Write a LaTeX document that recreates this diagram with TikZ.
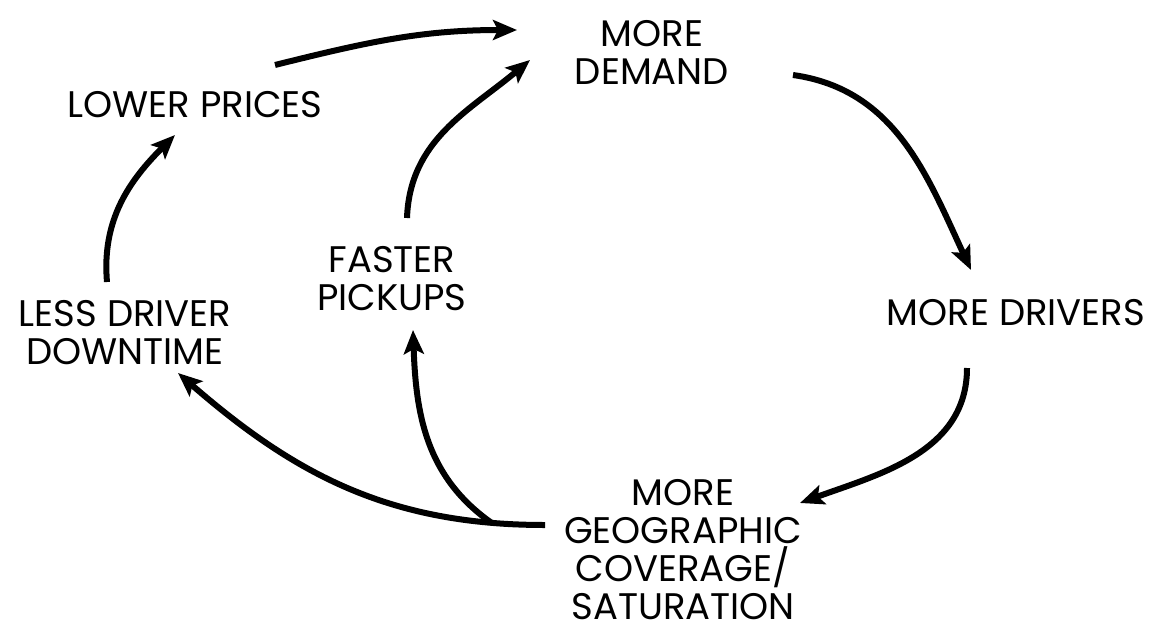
\documentclass[tikz,border=0pt]{standalone}
\usepackage{fontspec}
\setmainfont{Poppins}
\usetikzlibrary{arrows.meta}
\begin{document}
\begin{tikzpicture}[x=1pt,y=1pt,
    lbl/.style={align=center,font=\fontsize{37}{38}\selectfont,inner sep=0pt},
    flow/.style={line width=6pt,-{Stealth[length=24pt,width=20pt,inset=5pt]}}]
    \useasboundingbox (0,0) rectangle (1167,-637);
    % Nodes
    \node[lbl] (demand) at (652,-52) {MORE\\DEMAND};
    \node[lbl] (lower) at (195,-105) {LOWER PRICES};
    \node[lbl] (faster) at (392,-279) {FASTER\\PICKUPS};
    \node[lbl] (less) at (125,-333) {LESS DRIVER\\DOWNTIME};
    \node[lbl] (drivers) at (1016,-313) {MORE DRIVERS};
    \node[lbl] (geo) at (683,-550) {MORE\\GEOGRAPHIC\\COVERAGE/\\SATURATION};
    % Loop
    \draw[flow] ([shift={(80,40)}]lower.center) to[out=14,in=180] ([shift={(-135,22)}]demand.center);
    \draw[flow] ([shift={(141,-23)}]demand.center) to[out=-8,in=115] ([shift={(-45,43)}]drivers.center);
    \draw[flow] ([shift={(-49,-55)}]drivers.center) to[out=-90,in=20] ([shift={(117,47)}]geo.center);
    \draw[flow] ([shift={(-138,25)}]geo.center) to[out=180,in=-41] coordinate[pos=0.12] (fork) ([shift={(53,-40)}]less.center);
    \draw[flow] (fork) to[out=145,in=-88] ([shift={(21,-51)}]faster.center);
    \draw[flow] ([shift={(15,61)}]faster.center) to[out=88,in=220] ([shift={(-122,-8)}]demand.center);
    \draw[flow] ([shift={(-18,51)}]less.center) to[out=95,in=225] ([shift={(-20,-30)}]lower.center);
\end{tikzpicture}
\end{document}
